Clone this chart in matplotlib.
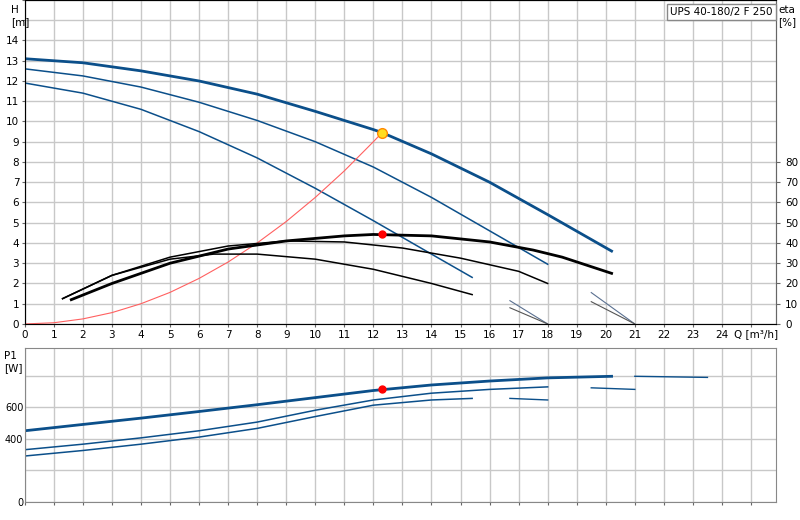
import matplotlib.pyplot as plt
import numpy as np

# head curves H [m] vs Q [m3/h]
q_h_max = [0, 2, 4, 6, 8, 10, 12, 12.3, 14, 16, 18, 20.2]
h_max = [13.1, 12.9, 12.5, 12.0, 11.35, 10.5, 9.6, 9.45, 8.4, 7.0, 5.4, 3.6]
q_h_mid = [0, 2, 4, 6, 8, 10, 12, 14, 16, 18]
h_mid = [12.6, 12.25, 11.7, 10.95, 10.05, 9.0, 7.75, 6.25, 4.6, 2.95]
q_h_low = [0, 2, 4, 6, 8, 10, 12, 14, 15.4]
h_low = [11.9, 11.4, 10.6, 9.5, 8.2, 6.7, 5.1, 3.45, 2.3]

# efficiency curves eta [%]
q_e_max = [1.6, 3, 5, 7, 9, 11, 12, 14, 16, 17.5, 18.5, 20.2]
e_max = [12, 20, 30, 37, 41, 43.5, 44.2, 43.5, 40.5, 36.5, 33, 25]
q_e_mid = [1.3, 3, 5, 7, 9, 11, 13, 15, 17, 18]
e_mid = [12.5, 24, 33, 38.5, 41, 40.5, 37.5, 32.5, 26, 20]
q_e_low = [1.3, 3, 5, 6.5, 8, 10, 12, 14, 15.4]
e_low = [12.5, 24, 32, 34.5, 34.5, 32, 27, 20, 14.5]

# small eta segments
seg_q = [[16.7, 18], [16.7, 18], [19.5, 21], [19.5, 21]]
seg_e = [[11.5, 0], [8, 0], [15.5, 0], [11, 0]]

# system curve
q_sys = [0, 1, 2, 3, 4, 5, 6, 7, 8, 9, 10, 11, 12, 12.3]
h_sys = [0, 0.06, 0.25, 0.56, 1.0, 1.56, 2.25, 3.06, 4.0, 5.06, 6.25, 7.56, 9.0, 9.45]

duty_q = 12.3
duty_h = 9.45
duty_eta = 44.2
duty_p = 712

# power curves P1 [W]
q_p_max = [0, 2, 4, 6, 8, 10, 12, 14, 16, 18, 20.2]
p_max = [450, 490, 530, 572, 615, 660, 705, 740, 765, 785, 795]
q_p_mid = [0, 2, 4, 6, 8, 10, 12, 14, 16, 18]
p_mid = [330, 365, 405, 450, 505, 580, 645, 688, 712, 728]
q_p_low = [0, 2, 4, 6, 8, 10, 12, 14, 15.4]
p_low = [290, 325, 365, 410, 465, 540, 612, 645, 655]
pseg_q = [[16.7, 18], [19.5, 21], [21, 23.5]]
pseg_p = [[655, 645], [722, 712], [795, 788]]

blue = '#0b4f8a'
gridc = '#c8c8c8'

fig = plt.figure(figsize=(8, 5.2), dpi=100)
ax = fig.add_axes([0.031, 0.377, 0.939, 0.623])
ax2 = ax.twinx()
axp = fig.add_axes([0.031, 0.035, 0.939, 0.296])

for a in (ax, axp):
    a.set_xlim(0, 25.86)
    a.set_xticks(np.arange(0, 26))
    a.grid(True, color=gridc, lw=1)
    a.tick_params(labelsize=7.5, length=2, pad=2, color='#666666')
    for s in a.spines.values():
        s.set_color('#888888')
ax.set_ylim(0, 16)
ax.set_yticks(np.arange(0, 17))
ax.set_yticklabels([str(i) if i <= 14 else '' for i in range(17)])
ax.set_xticklabels([str(i) if i <= 24 else '' for i in range(26)])
ax2.set_ylim(0, 160)
ax2.set_yticks(np.arange(0, 90, 10))
ax2.tick_params(labelsize=7.5, length=3, color='#666666')
ax2.spines['right'].set_color('#666666')

ax.plot(q_h_max, h_max, color=blue, lw=2)
ax.plot(q_h_mid, h_mid, color=blue, lw=1.1)
ax.plot(q_h_low, h_low, color=blue, lw=1.1)
ax.plot(q_sys, h_sys, color='#ff6060', lw=0.8)
ax2.plot(q_e_max, e_max, color='black', lw=2)
ax2.plot(q_e_mid, e_mid, color='black', lw=1.1)
ax2.plot(q_e_low, e_low, color='black', lw=1.1)
for i, (sq, se) in enumerate(zip(seg_q, seg_e)):
    ax2.plot(sq, se, color='#5a7090' if i % 2 == 0 else '#555555', lw=0.8)
ax2.plot(duty_q, duty_eta, 'o', color='red', ms=5)
ax2.plot(duty_q, duty_h * 10, 'o', color='#ffdd22', mec='#ff8800', ms=7)

axp.plot(q_p_max, p_max, color=blue, lw=2)
axp.plot(q_p_mid, p_mid, color=blue, lw=1.1)
axp.plot(q_p_low, p_low, color=blue, lw=1.1)
for sq, sp in zip(pseg_q, pseg_p):
    axp.plot(sq, sp, color=blue, lw=1)
axp.plot(duty_q, duty_p, 'o', color='red', ms=5)
axp.set_ylim(0, 975)
axp.set_yticks([0, 200, 400, 600, 800])
axp.set_yticklabels(['0', '', '400', '600', ''], fontsize=7)
axp.tick_params(axis='y', length=0, pad=1)
axp.set_xticklabels([])

fig.text(0.014, 0.99, 'H\n[m]', fontsize=7.5, va='top', ha='left')
fig.text(0.973, 0.99, 'eta\n[%]', fontsize=7.5, va='top', ha='left')
fig.text(0.005, 0.325, 'P1\n[W]', fontsize=7.5, va='top', ha='left')
fig.text(0.917, 0.357, 'Q [m³/h]', fontsize=7.5, va='center', ha='left')
fig.text(0.966, 0.987, 'UPS 40-180/2 F 250', fontsize=7.5, va='top', ha='right',
         bbox=dict(facecolor='white', edgecolor='#888888', pad=2))

plt.savefig('out.png', dpi=100)
